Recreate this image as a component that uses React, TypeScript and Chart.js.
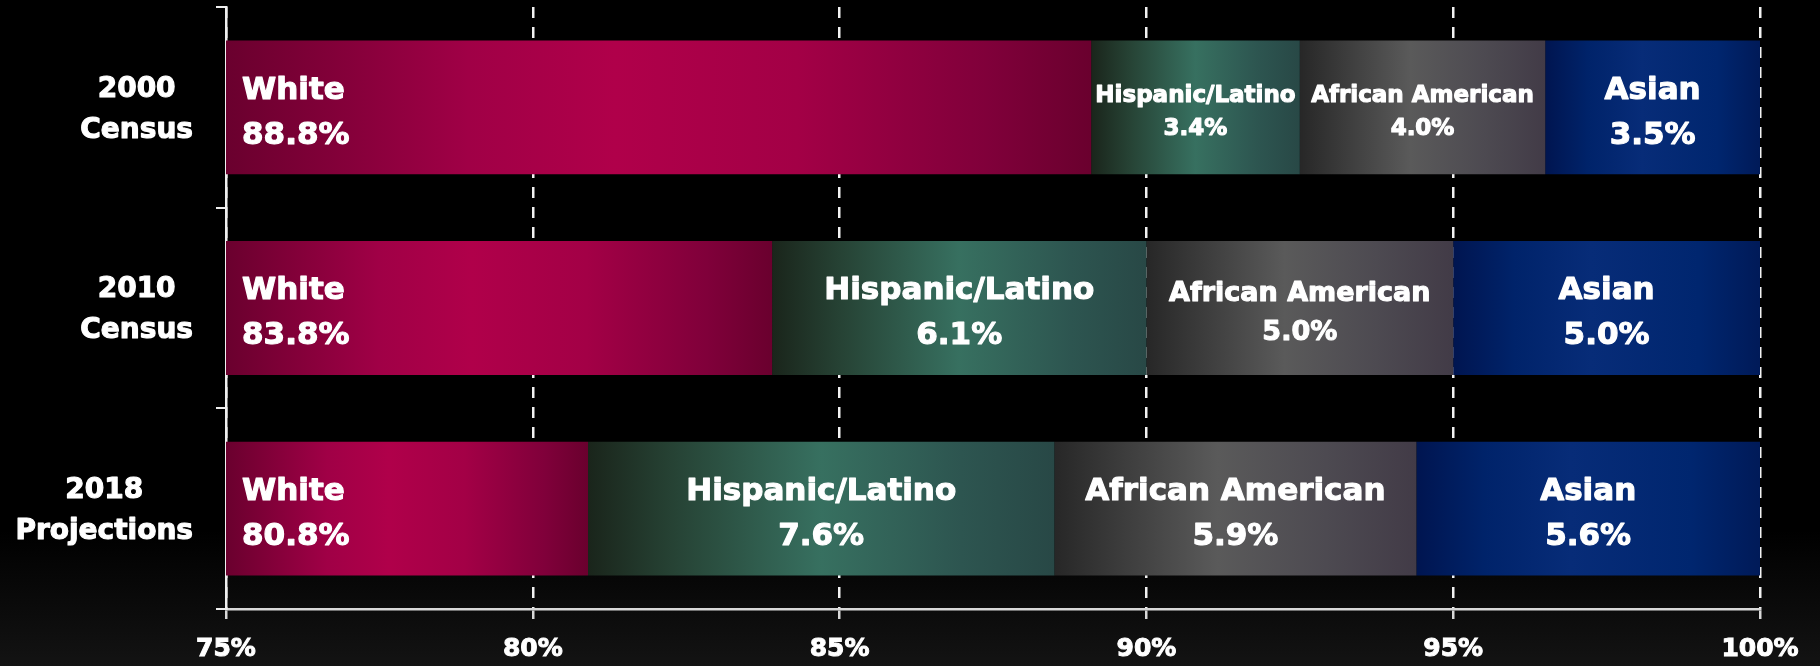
import React, { useEffect, useRef } from 'react';
import { Chart, registerables } from 'chart.js';

Chart.register(...registerables);

// ---------- data ----------
const categories: string[][] = [['2000', 'Census'], ['2010', 'Census'], ['2018', 'Projections']];
const seriesNames = ['White', 'Hispanic/Latino', 'African American', 'Asian'];
const whiteShare = [88.8, 83.8, 80.8];
const hispanicShare = [3.4, 6.1, 7.6];
const africanShare = [4.0, 5.0, 5.9];
const asianShare = [3.5, 5.0, 5.6];
// length of the White segment as drawn in the picture (the stack fills to 100%)
const whiteBar = [89.1, 83.9, 80.9];
const xTicks = [75, 80, 85, 90, 95, 100];

// ---------- styles ----------
const FONT = '"DejaVu Sans", "Liberation Sans", sans-serif';
const labelSizes: number[][] = [
  [31, 23, 23, 31],
  [31, 31, 27, 31],
  [31, 31, 31, 31],
];
const gradStops: [number, string][][] = [
  [[0, '#6a002e'], [0.28, '#a00046'], [0.45, '#b0004a'], [0.66, '#a30046'], [0.88, '#80003a'], [1, '#6a002e']],
  [[0, '#1a251b'], [0.18, '#264234'], [0.5, '#377060'], [0.8, '#2d5550'], [1, '#284846']],
  [[0, '#272727'], [0.45, '#5a5a5a'], [0.75, '#4d4a51'], [1, '#423b47']],
  [[0, '#001550'], [0.2, '#00236a'], [0.45, '#072c78'], [0.8, '#00266f'], [1, '#001a58']],
];

const shares = [whiteShare, hispanicShare, africanShare, asianShare];
const barValues = [whiteBar, hispanicShare, africanShare, asianShare];

function makeGradient(context: any, di: number) {
  const chart = context.chart;
  const { ctx, chartArea, scales } = chart;
  if (!chartArea || !scales || !scales.x) return gradStops[di][2][1];
  const i = context.dataIndex;
  let start = 0;
  for (let k = 0; k < di; k++) start += barValues[k][i];
  const end = start + barValues[di][i];
  const x0 = Math.max(scales.x.getPixelForValue(start), chartArea.left);
  const x1 = scales.x.getPixelForValue(end);
  const g = ctx.createLinearGradient(x0, 0, x1, 0);
  gradStops[di].forEach(([o, c]) => g.addColorStop(o, c));
  return g;
}

function heavyText(ctx: CanvasRenderingContext2D, text: string, x: number, y: number) {
  ctx.strokeText(text, x, y);
  ctx.fillText(text, x, y);
}

const segmentLabels = {
  id: 'segmentLabels',
  afterDatasetsDraw(chart: any) {
    const { ctx, chartArea } = chart;
    ctx.save();
    ctx.fillStyle = '#ffffff';
    ctx.strokeStyle = '#ffffff';
    ctx.lineWidth = 1.1;
    ctx.lineJoin = 'round';
    ctx.textBaseline = 'alphabetic';
    chart.data.datasets.forEach((_ds: any, di: number) => {
      const meta = chart.getDatasetMeta(di);
      meta.data.forEach((bar: any, i: number) => {
        const size = labelSizes[i][di];
        const pitch = size * 1.45;
        const cy = bar.y + 2.5;
        const x0 = Math.max(Math.min(bar.base, bar.x), chartArea.left);
        const x1 = Math.max(bar.base, bar.x);
        const lines = [seriesNames[di], shares[di][i].toFixed(1) + '%'];
        ctx.font = `bold ${size}px ${FONT}`;
        let tx: number;
        if (di === 0) {
          ctx.textAlign = 'left';
          tx = x0 + 16;
        } else {
          ctx.textAlign = 'center';
          tx = (x0 + x1) / 2;
        }
        lines.forEach((ln, li) => {
          const capCenter = cy + (li === 0 ? -pitch / 2 : pitch / 2);
          heavyText(ctx, ln, tx, capCenter + 0.3645 * size);
        });
      });
    });
    ctx.restore();
  },
};

const categoryLabels = {
  id: 'categoryLabels',
  afterDraw(chart: any) {
    const { ctx, chartArea, scales } = chart;
    const y = scales.y;
    ctx.save();
    ctx.fillStyle = '#ffffff';
    ctx.strokeStyle = '#ffffff';
    ctx.lineWidth = 1.1;
    ctx.lineJoin = 'round';
    ctx.textAlign = 'center';
    ctx.textBaseline = 'alphabetic';
    const size = 28;
    ctx.font = `bold ${size}px ${FONT}`;
    categories.forEach((lines, i) => {
      const c = y.getPixelForValue(i);
      const w = Math.max(...lines.map((l) => ctx.measureText(l).width));
      const cx = chartArea.left - 33 - w / 2;
      const pitch = 41;
      lines.forEach((ln, li) => {
        const capCenter = c - 0.5 + (li - (lines.length - 1) / 2) * pitch;
        heavyText(ctx, ln, cx, capCenter + 0.3645 * size);
      });
    });
    ctx.restore();
  },
};

export default function App() {
  const ref = useRef<HTMLCanvasElement | null>(null);

  useEffect(() => {
    document.body.style.margin = '0';
    document.body.style.background = '#000';
    const canvas = ref.current;
    if (!canvas) return;
    const chart = new Chart(canvas, {
      type: 'bar',
      data: {
        labels: categories.map((c) => c.join(' ')),
        datasets: seriesNames.map((name, di) => ({
          label: name,
          data: barValues[di],
          backgroundColor: (context: any) => makeGradient(context, di),
          borderWidth: 0,
          barPercentage: 0.667,
          categoryPercentage: 1,
        })),
      },
      options: {
        indexAxis: 'y',
        responsive: false,
        maintainAspectRatio: false,
        devicePixelRatio: 1,
        animation: false,
        layout: { padding: { top: 7, right: 60, bottom: 1, left: 0 } },
        plugins: {
          legend: { display: false },
          tooltip: { enabled: false },
        },
        scales: {
          x: {
            type: 'linear',
            position: 'bottom',
            stacked: true,
            min: 75,
            max: 100,
            afterBuildTicks: (s: any) => {
              s.ticks = xTicks.map((v) => ({ value: v }));
            },
            afterFit: (s: any) => {
              s.height = 56;
            },
            ticks: {
              callback: (v: any) => v + '%',
              color: '#ffffff',
              textStrokeColor: '#ffffff',
              textStrokeWidth: 1,
              font: { family: FONT, weight: 'bold', size: 25 },
              padding: 15,
              maxRotation: 0,
              autoSkip: false,
            },
            grid: {
              color: '#f2f2f2',
              lineWidth: 2.5,
              drawTicks: true,
              tickLength: 10,
              tickColor: '#d8d8d8',
              tickWidth: 2.5,
              tickBorderDash: [],
            },
            border: {
              display: true,
              color: '#d8d8d8',
              width: 2.5,
              dash: [11, 9],
            },
          },
          y: {
            type: 'category',
            position: 'left',
            stacked: true,
            offset: true,
            afterFit: (s: any) => {
              s.width = 226;
            },
            ticks: { display: false },
            grid: {
              display: true,
              offset: true,
              drawOnChartArea: false,
              drawTicks: true,
              tickLength: 10,
              color: '#eeeeee',
              lineWidth: 2,
            },
            border: { display: true, color: '#f0f0f0', width: 2.5 },
          },
        },
      },
      plugins: [segmentLabels, categoryLabels],
    } as any);
    return () => chart.destroy();
  }, []);

  return (
    <div
      style={{
        position: 'relative',
        width: 1820,
        height: 666,
        background: 'linear-gradient(to bottom, #000 0px, #000 530px, #131313 666px)',
      }}
    >
      <canvas ref={ref} width={1820} height={666} style={{ display: 'block', width: 1820, height: 666 }} />
    </div>
  );
}
